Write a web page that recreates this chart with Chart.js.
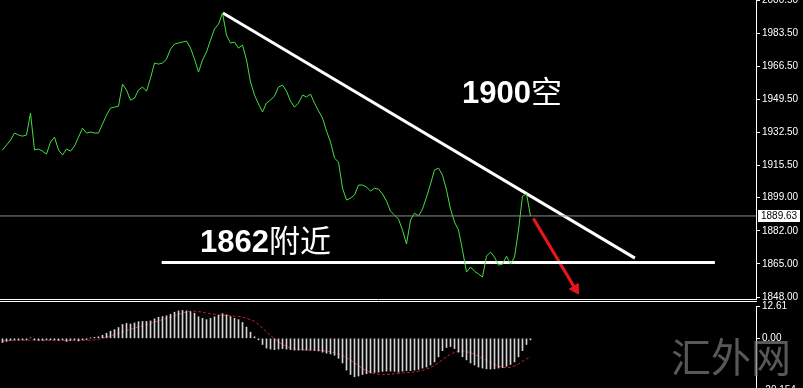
<!DOCTYPE html>
<html lang="zh">
<head>
<meta charset="utf-8">
<script src="https://cdn.jsdelivr.net/npm/chart.js@4.4.1/dist/chart.umd.min.js"></script>
<style>
    html, body { margin: 0; padding: 0; background: #000; overflow: hidden; width: 803px; height: 388px; }
    #precio { position: absolute; left: 0; top: 0; }
    #macd { position: absolute; left: 0; top: 301px; }
    .nota { position: absolute; color: #fff; font-size: 31px; line-height: 31px; white-space: nowrap; font-family: "Liberation Sans", Arial, sans-serif; font-weight: bold; }
    .nota span { font-family: "Noto Sans CJK SC", sans-serif; font-weight: normal; }
    .marca { position: absolute; left: 671px; top: 335px; font-size: 40px; line-height: 40px; color: rgba(125, 125, 125, 0.7); font-family: "Noto Sans CJK SC", sans-serif; white-space: nowrap; }
</style>
</head>
<body>
<canvas id="precio" width="803" height="300"></canvas>
<canvas id="macd" width="803" height="99"></canvas>
<div class="nota" style="left:462px; top:74px;">1900<span>空</span></div>
<div class="nota" style="left:200px; top:223px;">1862<span>附近</span></div>
<div class="marca">汇外网</div>

<script>
// cierres del grafico de linea (uno por barra)
const cierres = [
    1923.5, 1926.0, 1928.6, 1932.2, 1931.2, 1930.6, 1931.2, 1942.4, 1923.5, 1924.0,
    1922.9, 1921.4, 1927.6, 1930.1, 1923.5, 1920.9, 1924.0, 1922.9, 1925.5, 1930.1,
    1934.7, 1932.2, 1932.7, 1932.2, 1932.2, 1936.8, 1941.4, 1945.0, 1945.5, 1946.0,
    1957.3, 1954.3, 1949.1, 1950.1, 1954.3, 1955.8, 1953.7, 1960.4, 1968.1, 1967.6,
    1968.1, 1970.2, 1975.3, 1977.9, 1978.4, 1978.9, 1979.4, 1975.8, 1970.2, 1963.5,
    1969.7, 1973.8, 1979.9, 1985.6, 1988.1, 1993.8, 1982.5, 1978.4, 1978.9, 1975.8,
    1977.4, 1969.7, 1958.4, 1951.7, 1947.1, 1943.0, 1947.6, 1949.1, 1951.2, 1955.8,
    1956.8, 1953.7, 1948.6, 1945.5, 1947.6, 1951.7, 1950.7, 1952.2, 1947.6, 1943.5,
    1939.9, 1933.2, 1927.6, 1919.3, 1917.3, 1903.9, 1897.8, 1898.8, 1900.4, 1905.5,
    1905.5, 1904.5, 1902.4, 1903.9, 1903.4, 1900.9, 1897.3, 1892.1, 1890.1, 1888.0,
    1882.4, 1875.2, 1887.5, 1891.1, 1889.6, 1893.2, 1899.3, 1906.0, 1913.2, 1914.2,
    1910.6, 1902.9, 1893.2, 1886.5, 1882.4, 1872.1, 1860.8, 1863.4, 1861.3, 1859.8,
    1858.3, 1869.0, 1871.1, 1868.5, 1864.4, 1864.9, 1869.0, 1864.9, 1868.5, 1882.4,
    1899.8, 1901.0, 1889.63
];

// MACD: linea principal (barras) y senal (punteada)
const macdPrincipal = [
    -1.6, -1.2, -0.8, -0.6, -0.6, -0.6, -0.6, 0.2, -0.6, -0.8,
    -0.8, -0.6, -0.6, -0.6, -0.8, -0.6, -1.2, -0.8, -0.6, -1.0,
    -0.6, -0.5, 0.1, 0.4, 0.6, 1.2, 2.0, 2.8, 3.4, 4.2,
    5.4, 5.8, 5.6, 6.0, 6.5, 6.6, 6.6, 6.8, 7.6, 8.2,
    8.5, 8.8, 9.4, 10.2, 10.7, 10.9, 10.7, 10.4, 9.8, 8.4,
    7.8, 7.3, 7.8, 8.4, 9.0, 9.6, 9.2, 8.5, 7.8, 7.3,
    6.2, 4.4, 2.4, 0.6, -0.6, -2.4, -3.8, -4.2, -4.4, -4.2,
    -4.0, -4.2, -4.4, -4.6, -4.6, -4.6, -4.6, -4.6, -4.7, -4.9,
    -5.4, -5.8, -6.1, -6.6, -7.8, -9.6, -12.4, -14.1, -15.0, -14.7,
    -14.1, -13.8, -13.5, -13.3, -13.2, -12.9, -12.8, -12.8, -12.9, -13.2,
    -12.8, -12.6, -12.6, -12.4, -12.1, -11.6, -11.2, -10.4, -9.2, -7.2,
    -4.8, -3.6, -3.2, -4.0, -5.4, -7.2, -8.4, -9.6, -10.4, -11.2,
    -11.6, -11.9, -12.0, -11.9, -11.6, -11.4, -10.9, -10.2, -9.2, -7.2,
    -4.8, -2.4, -0.6
];
const macdSenal = [
    -1.0, -0.9, -0.9, -0.8, -0.8, -0.8, -0.7, -0.7, -0.7, -0.8,
    -0.8, -0.8, -0.8, -0.8, -0.8, -0.8, -0.8, -0.8, -0.8, -0.8,
    -0.8, -0.7, -0.7, -0.6, -0.4, 0.0, 0.5, 1.0, 1.4, 1.9,
    2.5, 3.0, 3.5, 4.0, 4.4, 4.9, 5.4, 5.9, 6.4, 6.8,
    7.3, 7.8, 8.3, 8.9, 9.4, 9.8, 10.3, 10.6, 10.6, 10.4,
    10.2, 9.8, 9.6, 9.4, 9.1, 9.0, 8.9, 8.8, 8.6, 8.5,
    8.3, 7.8, 7.3, 6.6, 5.4, 4.0, 2.5, 1.1, -0.2, -1.4,
    -2.4, -3.1, -3.7, -4.1, -4.3, -4.4, -4.6, -4.6, -4.6, -4.7,
    -4.8, -5.0, -5.3, -5.6, -6.1, -6.7, -7.6, -8.5, -9.6, -10.7,
    -11.8, -12.6, -13.3, -13.8, -14.0, -14.1, -14.1, -14.0, -13.8, -13.8,
    -13.5, -13.4, -13.3, -13.1, -12.8, -12.5, -12.0, -11.4, -10.6, -9.5,
    -8.3, -7.2, -6.2, -5.5, -5.0, -4.9, -5.2, -5.6, -6.2, -7.0,
    -7.8, -8.6, -9.5, -10.2, -10.8, -11.3, -11.4, -11.3, -10.8, -10.0,
    -9.0, -8.0, -7.2
];

// escalas del eje derecho
const ticksPrecio = [1848, 1865, 1882, 1899, 1915.5, 1932.5, 1949.5, 1966.5, 1983.5, 2000.5];
const ticksMacd = [12.61, 0, -20.154];
const etiquetasMacd = ['12.61', '0.00', '-20.154'];

// lineas dibujadas a mano (indice de barra, precio)
const lineaTendencia = [[55.1, 1993.8], [158.1, 1868.0]];
const lineaSoporte = [[39.8, 1865.8], [178.1, 1865.8]];
const flechaBajista = [[132.7, 1888.4], [143.2, 1852.2]];
const precioActual = 1889.63;

const X_MIN = -0.625;
const X_MAX = 188.375;
const fuenteEje = { family: 'Liberation Sans', size: 10 };

const aPuntos = pares => pares.map(p => ({ x: p[0], y: p[1] }));

function ejeDerecho(min, max, valores, formato) {
    return {
        position: 'right',
        min: min,
        max: max,
        afterBuildTicks: escala => { escala.ticks = valores.map(v => ({ value: v })); },
        afterFit: escala => {
            escala.width = 47;
            escala.paddingTop = 0;
            escala.paddingBottom = 0;
        },
        ticks: { color: '#fff', font: fuenteEje, padding: 2, callback: formato },
        grid: { drawOnChartArea: false, tickLength: 4, color: '#fff' },
        border: { color: '#fff', width: 1 }
    };
}

const marcoPrecio = {
    id: 'marcoPrecio',
    afterDraw(chart) {
        const ctx = chart.ctx;
        const area = chart.chartArea;
        const y = Math.round(chart.scales.y.getPixelForValue(precioActual));
        ctx.save();
        ctx.fillStyle = '#fff';
        ctx.fillRect(758, y - 6, 42, 12);
        ctx.fillStyle = '#000';
        ctx.font = '10px "Liberation Sans"';
        ctx.textBaseline = 'middle';
        ctx.fillText(precioActual.toFixed(2), 761, y + 0.5);
        ctx.strokeStyle = '#fff';
        ctx.lineWidth = 1;
        ctx.beginPath();
        ctx.moveTo(0, area.bottom + 0.5);
        ctx.lineTo(area.right + 1, area.bottom + 0.5);
        ctx.stroke();
        ctx.restore();
    }
};

const marcoMacd = {
    id: 'marcoMacd',
    afterDraw(chart) {
        const ctx = chart.ctx;
        ctx.save();
        ctx.strokeStyle = '#fff';
        ctx.lineWidth = 1;
        ctx.beginPath();
        ctx.moveTo(0, 0.5);
        ctx.lineTo(chart.chartArea.right + 1, 0.5);
        ctx.stroke();
        ctx.restore();
    }
};

new Chart(document.getElementById('precio'), {
    type: 'line',
    data: {
        datasets: [
            {
                data: [{ x: X_MIN, y: precioActual }, { x: X_MAX, y: precioActual }],
                borderColor: '#8c8c8c',
                borderWidth: 1
            },
            {
                data: cierres.map((v, i) => ({ x: i, y: v })),
                borderColor: '#44dd44',
                borderWidth: 1
            },
            {
                data: aPuntos(lineaTendencia),
                borderColor: '#ffffff',
                borderWidth: 3
            },
            {
                data: aPuntos(lineaSoporte),
                borderColor: '#ffffff',
                borderWidth: 3
            },
            {
                data: aPuntos(flechaBajista),
                borderColor: '#e8161c',
                borderWidth: 3,
                pointStyle: 'triangle',
                pointRadius: [0, 6],
                pointRotation: 149,
                pointBackgroundColor: '#e8161c',
                pointBorderColor: '#e8161c',
                pointBorderWidth: 1
            }
        ]
    },
    options: {
        responsive: false,
        animation: false,
        layout: { autoPadding: false, padding: { left: 0, right: 0, top: 0, bottom: 1 } },
        elements: { point: { radius: 0 }, line: { tension: 0 } },
        plugins: { legend: { display: false }, tooltip: { enabled: false } },
        scales: {
            x: { type: 'linear', min: X_MIN, max: X_MAX, display: false },
            y: ejeDerecho(1847, 2000.5, ticksPrecio, v => Number(v).toFixed(2))
        }
    },
    plugins: [marcoPrecio]
});

new Chart(document.getElementById('macd'), {
    type: 'bar',
    data: {
        datasets: [
            {
                type: 'bar',
                data: macdPrincipal.map((v, i) => ({ x: i, y: v })),
                backgroundColor: '#d4d4d4',
                barThickness: 1
            },
            {
                type: 'line',
                data: macdSenal.map((v, i) => ({ x: i, y: v })),
                borderColor: '#c8202a',
                borderWidth: 1,
                borderDash: [3, 2],
                pointRadius: 0,
                tension: 0
            }
        ]
    },
    options: {
        responsive: false,
        animation: false,
        layout: { autoPadding: false, padding: { left: 0, right: 0, top: 5, bottom: 10 } },
        plugins: { legend: { display: false }, tooltip: { enabled: false } },
        scales: {
            x: { type: 'linear', min: X_MIN, max: X_MAX, offset: false, display: false },
            y: ejeDerecho(-20.154, 12.61, ticksMacd, (v, i) => etiquetasMacd[i])
        }
    },
    plugins: [marcoMacd]
});
</script>
</body>
</html>
